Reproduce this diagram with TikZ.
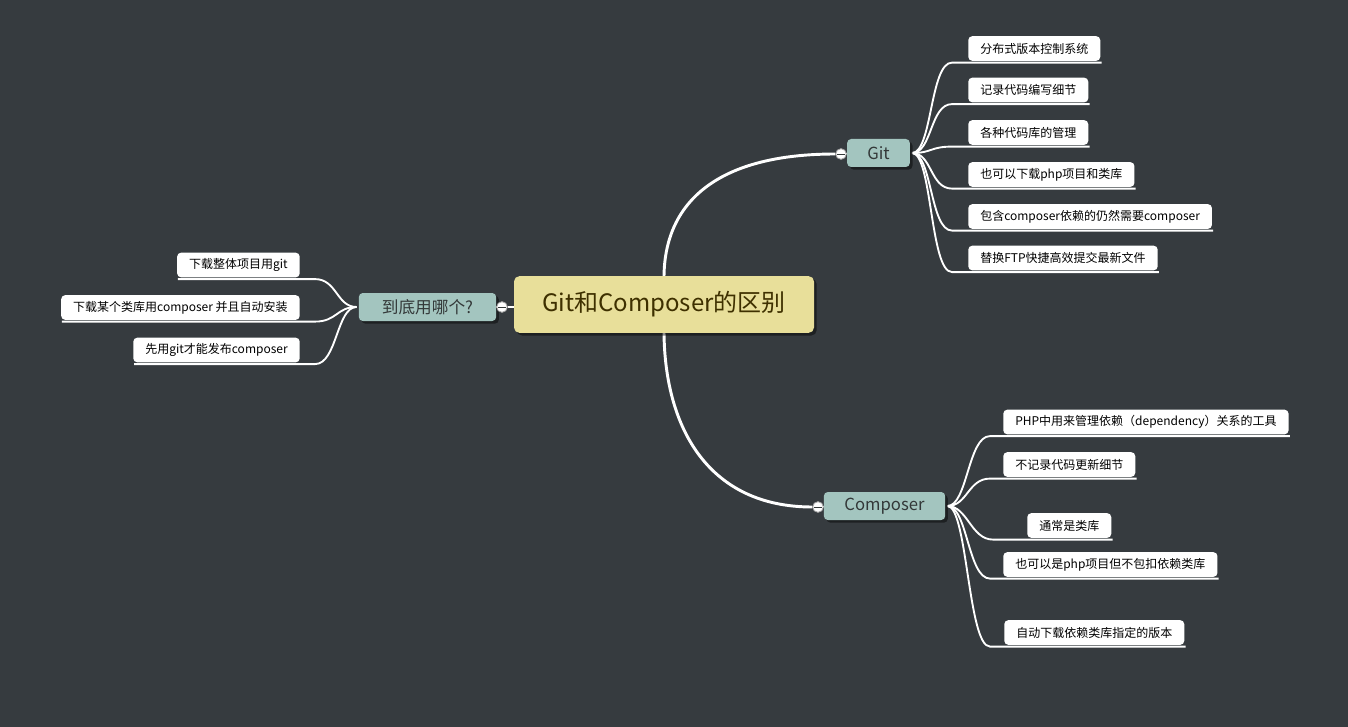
\documentclass[tikz,border=0pt]{standalone}
\usepackage{fontspec}
\setmainfont{Noto Sans CJK SC}
\usetikzlibrary{calc,shadows,backgrounds}
\definecolor{bgc}{HTML}{363B3F}
\definecolor{rootc}{HTML}{E8DF9A}
\definecolor{roottxt}{HTML}{3E3000}
\definecolor{mainc}{HTML}{A3C5BF}
\definecolor{maintxt}{HTML}{333838}
\tikzset{
  rootbox/.style={fill=rootc, text=roottxt, rounded corners=4pt, minimum width=225pt, minimum height=42.5pt,
    font=\fontsize{18}{20}\selectfont, drop shadow={shadow xshift=2pt, shadow yshift=-2pt, opacity=0.45, fill=black}},
  mainbox/.style={fill=mainc, text=maintxt, rounded corners=3pt, minimum height=21pt,
    font=\fontsize{12.5}{14}\selectfont, drop shadow={shadow xshift=2pt, shadow yshift=-2pt, opacity=0.45, fill=black}},
  leaf/.style={fill=white, text=black, rounded corners=3pt, minimum height=18.5pt, inner xsep=9pt,
    font=\fontsize{9}{11}\selectfont},
  branch/.style={draw=white, line width=1.4pt},
  trunk/.style={draw=white, line width=2.2pt},
  knob/.style={circle, fill=white, draw=gray!70, line width=0.6pt, minimum size=8pt, inner sep=0pt,
    path picture={\draw[maintxt, line width=0.7pt] ($(path picture bounding box.west)+(1.2pt,0)$) -- ($(path picture bounding box.east)+(-1.2pt,0)$);}}
}
\begin{document}
\begin{tikzpicture}[x=0.75pt, y=-0.75pt]
\useasboundingbox (0,0) rectangle (1348,727);

% main nodes
\node[rootbox] (root) at (664,304.5) {Git和Composer的区别};
\node[mainbox, minimum width=47pt] (git) at (878.5,153) {Git};
\node[mainbox, minimum width=91pt] (comp) at (884.5,506) {Composer};
\node[mainbox, minimum width=103pt] (which) at (427.5,307) {到底用哪个?};

% collapse knobs
\node[knob] (kg) at (841,154) {};
\node[knob] (kc) at (818,507) {};
\node[knob] (kw) at (502,307) {};

% git children
\node[leaf, anchor=west] (g1) at (968,48.5) {分布式版本控制系统};
\node[leaf, anchor=west] (g2) at (968,90) {记录代码编写细节};
\node[leaf, anchor=west] (g3) at (968,132.5) {各种代码库的管理};
\node[leaf, anchor=west] (g4) at (968,174.5) {也可以下载php项目和类库};
\node[leaf, anchor=west] (g5) at (968,216.5) {包含composer依赖的仍然需要composer};
\node[leaf, anchor=west] (g6) at (968,258) {替换FTP快捷高效提交最新文件};

% composer children
\node[leaf, anchor=west] (c1) at (1003,422) {PHP中用来管理依赖（dependency）关系的工具};
\node[leaf, anchor=west] (c2) at (1003,464.5) {不记录代码更新细节};
\node[leaf, anchor=west] (c3) at (1027,525.5) {通常是类库};
\node[leaf, anchor=west] (c4) at (1003,564.5) {也可以是php项目但不包扣依赖类库};
\node[leaf, anchor=west] (c5) at (1004,632.5) {自动下载依赖类库指定的版本};

% left children
\node[leaf, anchor=east] (w1) at (300,265) {下载整体项目用git};
\node[leaf, anchor=east] (w2) at (300,307.5) {下载某个类库用composer 并且自动安装};
\node[leaf, anchor=east] (w3) at (300,350) {先用git才能发布composer};

\begin{scope}[on background layer]
  \fill[bgc] (0,0) rectangle (1348,727);
  % trunks
  \draw[trunk] (root.north) .. controls (665,200) and (720,154) .. (kg.west);
  \draw[trunk] (kg.east) -- (git.west);
  \draw[trunk] (root.south) .. controls (665,430) and (710,507) .. (kc.west);
  \draw[trunk] (kc.east) -- (comp.west);
  \draw[trunk] (root.west |- kw) -- (kw.east);
  \draw[trunk] (kw.west) -- (which.east);
  % git branches
  \foreach \n in {g1,g2,g3,g4,g5,g6}{
    \draw[branch] ($(git.east)+(2,0)$) .. controls +(20,0) and ($(\n.south west)+(-38,1.5)$) .. ($(\n.south west)+(-16,1.5)$) -- ($(\n.south east)+(1,1.5)$);
  }
  % composer branches
  \foreach \n/\dx in {c1/13,c2/13,c3/34,c4/13,c5/14}{
    \draw[branch] ($(comp.east)+(2,0)$) .. controls +(20,0) and ($(\n.south west)+(-\dx-22,1.5)$) .. ($(\n.south west)+(-\dx,1.5)$) -- ($(\n.south east)+(1,1.5)$);
  }
  % left branches
  \foreach \n in {w1,w2,w3}{
    \draw[branch] ($(which.west)+(-2,0)$) .. controls +(-20,0) and ($(\n.south east)+(37,1.5)$) .. ($(\n.south east)+(15,1.5)$) -- ($(\n.south west)+(1,1.5)$);
  }
\end{scope}
\end{tikzpicture}
\end{document}
